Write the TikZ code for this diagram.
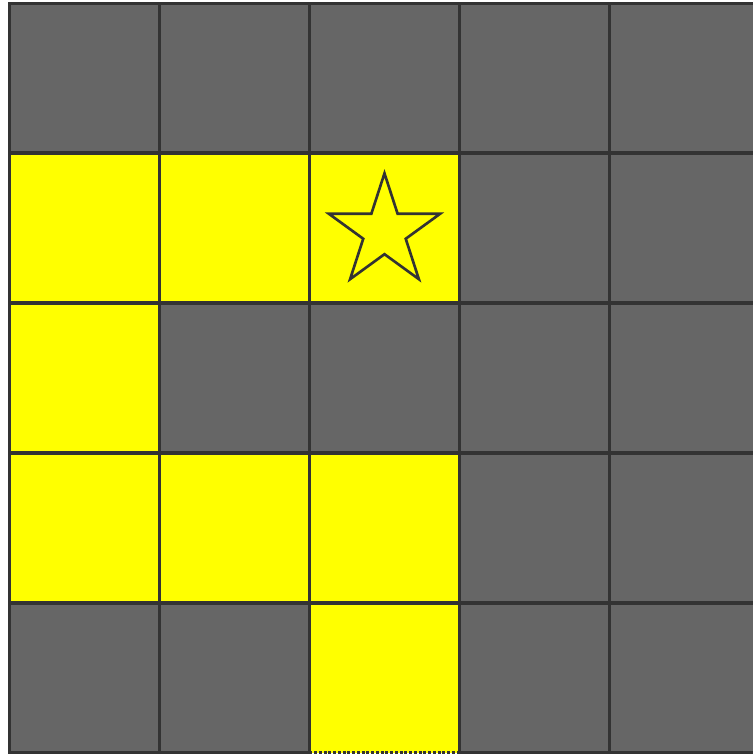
\documentclass[tikz,border=0pt]{standalone}
\usetikzlibrary{shapes.geometric}
\definecolor{wallgray}{HTML}{666666}
\definecolor{pathyellow}{HTML}{FFFF00}
\definecolor{gridline}{HTML}{333333}
\begin{document}
\begin{tikzpicture}[
    x=0.02cm, y=-0.02cm,
    cell/.style={draw=gridline, line width=1.7pt, minimum size=3cm,
                 inner sep=0pt, outer sep=0pt, anchor=north west},
    wall/.style={cell, fill=wallgray},
    open/.style={cell, fill=pathyellow},
    goal/.style={star, star points=5, star point ratio=2.618,
                 draw=gridline, fill=pathyellow,
                 line width=1.5pt, minimum size=2.34cm, inner sep=0pt}
  ]
  \useasboundingbox[fill=white] (0,0) rectangle (753,755);
  \clip (0,0) rectangle (753,755);
  % Walls
  \foreach \r/\c in {0/0,0/1,0/2,0/3,0/4,1/3,1/4,2/1,2/2,2/3,2/4,
                     3/3,3/4,4/0,4/1,4/3,4/4} {
    \node[wall] (c-\r-\c) at (9.5+150*\c, 3+150*\r) {};
  }
  % Open path
  \foreach \r/\c in {1/0,1/1,1/2,2/0,3/0,3/1,3/2} {
    \node[open] (c-\r-\c) at (9.5+150*\c, 3+150*\r) {};
  }
  % Entrance cell, dotted bottom edge
  \node[open, draw=none] (c-4-2) at (9.5+300, 3+600) {};
  \draw[gridline, line width=1.7pt]
    (c-4-2.south west) -- (c-4-2.north west) -- (c-4-2.north east) -- (c-4-2.south east);
  \draw[gridline, line width=1.7pt, densely dotted]
    (c-4-2.south west) -- (c-4-2.south east);
  % Goal
  \node[goal] (target) at ([yshift=-2.2pt]c-1-2.center) {};
\end{tikzpicture}
\end{document}
